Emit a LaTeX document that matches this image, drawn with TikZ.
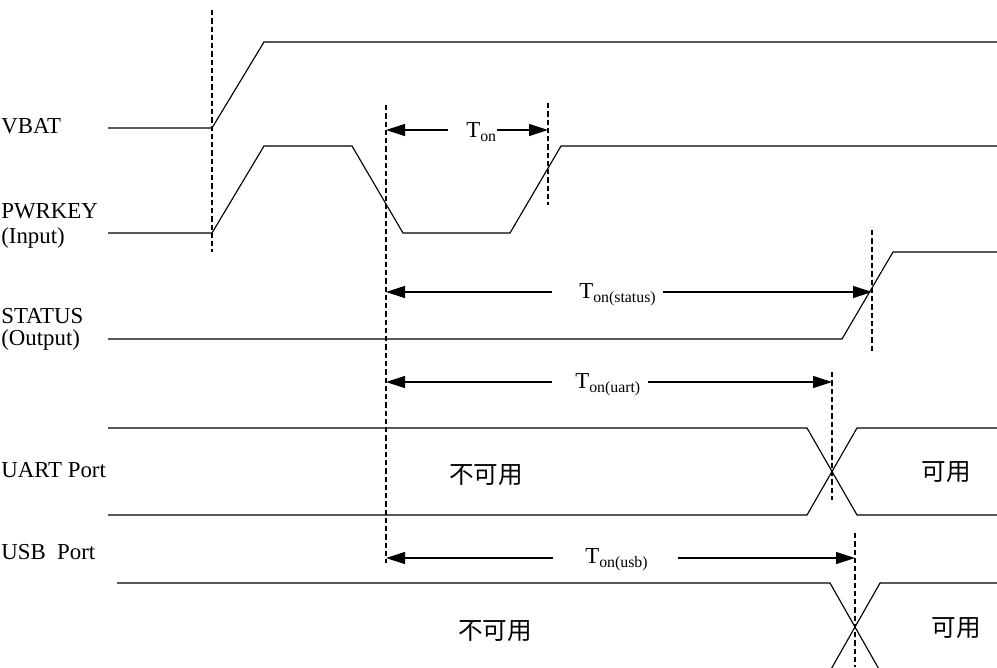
\documentclass[tikz,border=0pt]{standalone}
\usepackage{fontspec}
\setmainfont{Liberation Serif}
\newfontfamily\cjk{Noto Sans CJK SC}
\usetikzlibrary{arrows.meta}

\newcommand{\Tsub}[1]{T\raisebox{-2.3pt}{\fontsize{9}{10}\selectfont #1}}

\begin{document}
\begin{tikzpicture}[x=0.02cm, y=-0.02cm,
		sig/.style={line width=0.65pt},
		markline/.style={line width=0.8pt, dash pattern=on 3pt off 1.7pt},
		tarrow/.style={line width=0.65pt, -{Triangle[length=0.38cm, width=0.24cm]}},
		lbl/.style={anchor=base west, inner sep=0pt, font=\fontsize{13}{15}\selectfont},
		tlbl/.style={anchor=base west, inner sep=0pt, font=\fontsize{13}{15}\selectfont},
		zh/.style={inner sep=0pt, font=\fontsize{14}{16}\cjk}]
	\useasboundingbox (0,0) rectangle (997,667);
	\clip (0,0) rectangle (997,667);
	% signal names
	\node [lbl] (vbat) at (1,133) {VBAT};
	\node [lbl] (pwrkey) at (1,218) {PWRKEY};
	\node [lbl] (pwrin) at (1,243) {(Input)};
	\node [lbl] (status) at (1,323) {STATUS};
	\node [lbl] (statout) at (1,345) {(Output)};
	\node [lbl] (uart) at (1,477) {UART Port};
	\node [lbl] (usb) at (1,559) {USB\ \ Port};
	% waveforms
	\draw [sig] (108,128) -- (212,128) -- (264,42) -- (997,42);
	\draw [sig] (108,233) -- (212,233) -- (264,146) -- (352,146) -- (403,233) -- (510,233) -- (561,146) -- (997,146);
	\draw [sig] (108,339) -- (842,339) -- (893,252) -- (997,252);
	\draw [sig] (108,428) -- (807,428) -- (857,515) -- (997,515);
	\draw [sig] (108,515) -- (807,515) -- (857,428) -- (997,428);
	\draw [sig] (117,583) -- (830,583) -- (880,671) -- (997,671);
	\draw [sig] (117,671) -- (830,671) -- (880,583) -- (997,583);
	% time marks
	\coordinate (d1a) at (212,10);  \coordinate (d1b) at (212,252);
	\coordinate (d2a) at (386,105); \coordinate (d2b) at (386,563);
	\coordinate (d3a) at (548,103); \coordinate (d3b) at (548,205);
	\coordinate (d4a) at (872,230); \coordinate (d4b) at (872,352);
	\coordinate (d5a) at (832,372); \coordinate (d5b) at (832,500);
	\coordinate (d6a) at (855,533); \coordinate (d6b) at (855,667);
	\draw [markline] (d1a) -- (d1b);
	\draw [markline] (d2a) -- (d2b);
	\draw [markline] (d3a) -- (d3b);
	\draw [markline] (d4a) -- (d4b);
	\draw [markline] (d5a) -- (d5b);
	\draw [markline] (d6a) -- (d6b);
	% timing labels
	\node [tlbl] (ton) at (466,137) {\Tsub{on}};
	\node [tlbl] (tonstat) at (579,298) {\Tsub{on(status)}};
	\node [tlbl] (tonuart) at (575,388) {\Tsub{on(uart)}};
	\node [tlbl] (tonusb) at (585,563) {\Tsub{on(usb)}};
	\coordinate (ton-l) at (448,130);  \coordinate (ton-r) at (497,130);
	\coordinate (stat-l) at (552,292); \coordinate (stat-r) at (663,292);
	\coordinate (uart-l) at (552,382); \coordinate (uart-r) at (648,382);
	\coordinate (usb-l) at (553,558);  \coordinate (usb-r) at (678,558);
	\draw [tarrow] (ton-l) -- (d2a |- ton-l);
	\draw [tarrow] (ton-r) -- (d3a |- ton-r);
	\draw [tarrow] (stat-l) -- (d2a |- stat-l);
	\draw [tarrow] (stat-r) -- (d4a |- stat-r);
	\draw [tarrow] (uart-l) -- (d2a |- uart-l);
	\draw [tarrow] (uart-r) -- (d5a |- uart-r);
	\draw [tarrow] (usb-l) -- (d2a |- usb-l);
	\draw [tarrow] (usb-r) -- (d6a |- usb-r);
	% port states
	\node [zh] (uartoff) at (486,475) {不可用};
	\node [zh] (uarton) at (946,472) {可用};
	\node [zh] (usboff) at (495,631) {不可用};
	\node [zh] (usbon) at (956,628) {可用};
\end{tikzpicture}
\end{document}
